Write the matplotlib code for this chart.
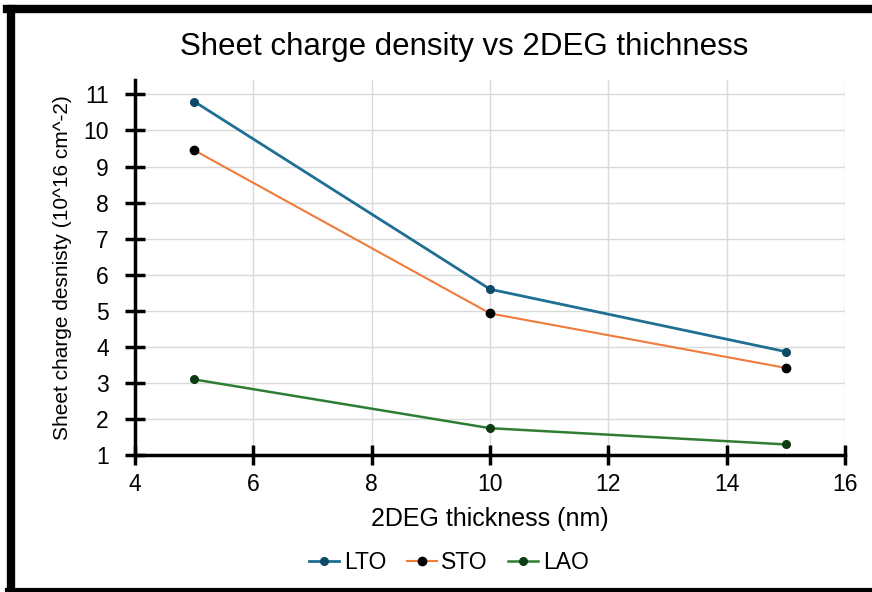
import matplotlib.pyplot as plt
from matplotlib.lines import Line2D

thickness = [5, 10, 15]
lto = [10.8, 5.6, 3.87]
sto = [9.45, 4.93, 3.42]
lao = [3.1, 1.75, 1.3]

plt.rcParams['font.family'] = ['Liberation Sans', 'DejaVu Sans']

fig = plt.figure(figsize=(8.72, 5.92), dpi=100)
ax = fig.add_axes([0.155, 0.231, 0.814, 0.634])

ax.plot(thickness, lto, color='#1f6f93', lw=2, marker='o', ms=5.5,
        markerfacecolor='#0d4a66', markeredgecolor='#0d4a66', label='LTO')
ax.plot(thickness, sto, color='#f07b3a', lw=1.5, marker='o', ms=6,
        markerfacecolor='black', markeredgecolor='black', label='STO')
ax.plot(thickness, lao, color='#2e7d32', lw=1.8, marker='o', ms=5.5,
        markerfacecolor='#0b3d10', markeredgecolor='#0b3d10', label='LAO')

ax.set_xlim(4, 16)
ax.set_ylim(1, 11.4)
ax.set_xticks(range(4, 17, 2))
ax.set_yticks(range(1, 12))
ax.grid(True, color='#d9d9d9', lw=1)
ax.set_axisbelow(True)

for s in ['top', 'right']:
    ax.spines[s].set_visible(False)
for s in ['left', 'bottom']:
    ax.spines[s].set_linewidth(2.5)
ax.tick_params(direction='inout', length=14, width=2.5, labelsize=16.5, pad=6)
ax.tick_params(axis='y', pad=12)

fig.text(0.532, 0.921, 'Sheet charge density vs 2DEG thichness', fontsize=22.5,
         ha='center', va='center')
ax.set_xlabel('2DEG thickness (nm)', fontsize=18, labelpad=8)
ax.set_ylabel('Sheet charge desnisty (10^16 cm^-2)', fontsize=15, labelpad=8)

fig.legend(loc='center', bbox_to_anchor=(0.515, 0.05), ncol=3, frameon=False,
           fontsize=16.5, handlelength=1.3, columnspacing=0.9, handletextpad=0.2)

# border around the picture
fig.lines.append(Line2D([0.0125, 0.0125], [0.0, 0.985], transform=fig.transFigure,
                        color='black', lw=6))
fig.lines.append(Line2D([0.008, 1.0], [0.985, 0.985], transform=fig.transFigure,
                        color='black', lw=6))
fig.lines.append(Line2D([0.008, 1.0], [0.003, 0.003], transform=fig.transFigure,
                        color='black', lw=3))

fig.savefig('out.png', dpi=100)
